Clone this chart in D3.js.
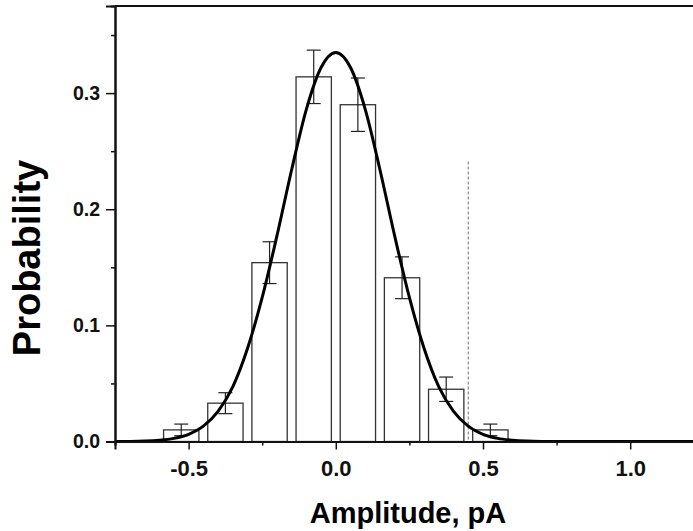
<!DOCTYPE html>
<html>
<head>
<meta charset="utf-8">
<script src="https://cdn.jsdelivr.net/npm/d3@7"></script>
<style>
  body { margin: 0; background: #fff; }
  svg { display: block; font-family: "Liberation Sans", Arial, sans-serif; }
</style>
</head>
<body>
<svg id="chart"></svg>
<script>
// histogram bins (centre of each bin, pA)
const binCenters = [-0.525, -0.375, -0.225, -0.075, 0.075, 0.225, 0.375, 0.525];
const probs = [0.010, 0.033, 0.154, 0.314, 0.290, 0.141, 0.045, 0.010];
const errs = [0.005, 0.009, 0.018, 0.023, 0.023, 0.018, 0.0105, 0.005];
const binWidth = 0.12;

// fitted curve
const fitX = [-0.75, -0.7, -0.65, -0.6, -0.55, -0.5, -0.45, -0.4, -0.35, -0.3, -0.25, -0.2, -0.15, -0.1, -0.05,
  0, 0.05, 0.1, 0.15, 0.2, 0.25, 0.3, 0.35, 0.4, 0.45, 0.5, 0.55, 0.6, 0.65, 0.7, 0.75, 0.9, 1.05, 1.25];
const fitY = [0, 0.0001, 0.0004, 0.0011, 0.0027, 0.0062, 0.0132, 0.026, 0.047, 0.080, 0.124, 0.177, 0.234, 0.286, 0.322,
  0.335, 0.322, 0.286, 0.234, 0.177, 0.124, 0.080, 0.047, 0.026, 0.0132, 0.0062, 0.0027, 0.0011, 0.0004, 0.0001, 0, 0, 0, 0];

const cutoff = 0.45, cutoffTop = 0.241;

const xMajor = [-0.5, 0, 0.5, 1.0];
const xMinor = [-0.75, -0.25, 0.25, 0.75, 1.25];
const yMajor = [0, 0.1, 0.2, 0.3];
const yMinor = [0.05, 0.15, 0.25, 0.35];

const width = 693, height = 531;
const svg = d3.select("#chart").attr("width", width).attr("height", height);

const x = d3.scaleLinear().domain([-0.75, 1.25]).range([115, 703.8]);
const y = d3.scaleLinear().domain([0, 0.375]).range([441.5, 6]);

// plain hyphen for negatives, like the original
const fmt = d => d.toFixed(1);

// bars
svg.append("g").selectAll("rect")
  .data(binCenters)
  .enter().append("rect")
  .attr("x", d => x(d - binWidth / 2))
  .attr("width", d => x(d + binWidth / 2) - x(d - binWidth / 2))
  .attr("y", (d, i) => y(probs[i]))
  .attr("height", (d, i) => y(0) - y(probs[i]))
  .attr("fill", "#fff")
  .attr("stroke", "#333")
  .attr("stroke-width", 1.3);

// error bars
const eb = svg.append("g").attr("stroke", "#222").attr("stroke-width", 1.2);
binCenters.forEach((c, i) => {
  const cx = x(c), top = y(probs[i] + errs[i]), bot = y(probs[i] - errs[i]);
  eb.append("line").attr("x1", cx).attr("x2", cx).attr("y1", top).attr("y2", bot);
  eb.append("line").attr("x1", cx - 7).attr("x2", cx + 7).attr("y1", top).attr("y2", top);
  eb.append("line").attr("x1", cx - 7).attr("x2", cx + 7).attr("y1", bot).attr("y2", bot);
});

// dotted cutoff line
svg.append("line")
  .attr("x1", x(cutoff)).attr("x2", x(cutoff))
  .attr("y1", y(cutoffTop)).attr("y2", y(0))
  .attr("stroke", "#888").attr("stroke-width", 1.2)
  .attr("stroke-dasharray", "3,2");

// fit
const line = d3.line()
  .x((d, i) => x(fitX[i]))
  .y(d => y(d))
  .curve(d3.curveMonotoneX);
svg.append("path")
  .attr("d", line(fitY))
  .attr("fill", "none")
  .attr("stroke", "#000")
  .attr("stroke-width", 3);

// frame (right side is outside the picture)
svg.append("line").attr("x1", x(-0.75)).attr("x2", x(1.25)).attr("y1", y(0.375)).attr("y2", y(0.375))
  .attr("stroke", "#111").attr("stroke-width", 2);

// axes
const xAx = svg.append("g").attr("transform", "translate(0," + y(0) + ")")
  .call(d3.axisBottom(x).tickValues(xMajor).tickSize(8).tickPadding(11).tickFormat(fmt));
svg.append("g").attr("transform", "translate(0," + y(0) + ")")
  .call(d3.axisBottom(x).tickValues(xMinor).tickSize(4).tickFormat(""));
const yAx = svg.append("g").attr("transform", "translate(" + x(-0.75) + ",0)")
  .call(d3.axisLeft(y).tickValues(yMajor).tickSize(9).tickPadding(6).tickFormat(fmt));
svg.append("g").attr("transform", "translate(" + x(-0.75) + ",0)")
  .call(d3.axisLeft(y).tickValues(yMinor).tickSize(4).tickFormat(""));

svg.selectAll(".domain").attr("stroke", "#111").attr("stroke-width", 2);
svg.selectAll(".tick line").attr("stroke", "#111").attr("stroke-width", 1.5);
xAx.selectAll("text").attr("font-size", 22).attr("font-weight", "bold").attr("fill", "#111");
yAx.selectAll("text").attr("font-size", 19.5).attr("font-weight", "bold").attr("fill", "#111");

// axis titles
svg.append("text")
  .attr("x", 408).attr("y", 523)
  .attr("text-anchor", "middle")
  .attr("font-size", 29).attr("font-weight", "bold")
  .text("Amplitude, pA");
svg.append("text")
  .attr("transform", "translate(40,258) rotate(-90)")
  .attr("text-anchor", "middle")
  .attr("font-size", 38).attr("font-weight", "bold")
  .text("Probability");
</script>
</body>
</html>
